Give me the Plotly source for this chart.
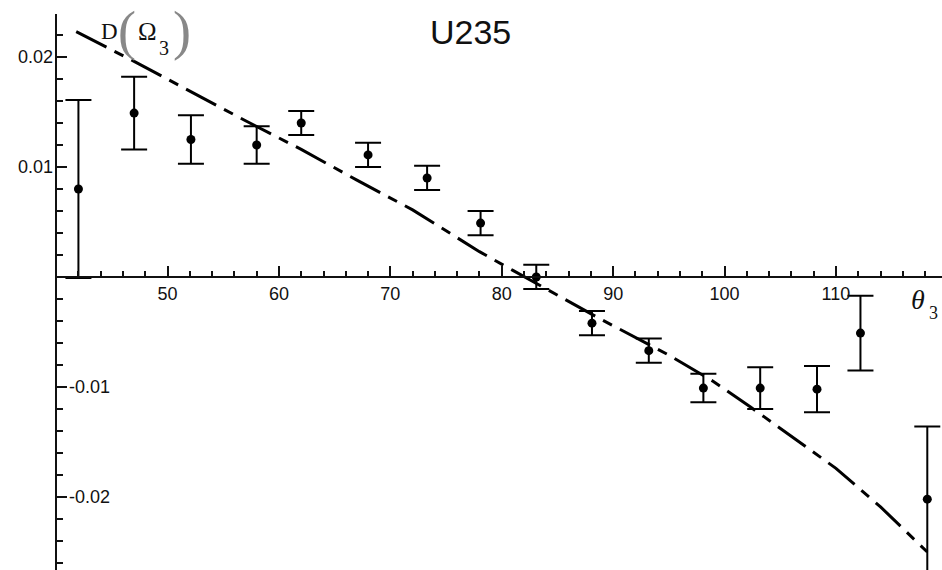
import plotly.graph_objects as go

# ---- data ----
theta_pts = [42.0, 47.0, 52.1, 58.0, 62.0, 68.0, 73.3, 78.1, 83.1, 88.1, 93.2, 98.1, 103.2, 108.3, 112.2, 118.2]
d_pts = [0.0080, 0.0149, 0.0125, 0.0120, 0.0140, 0.0111, 0.0090, 0.0049, 0.0000,
         -0.0042, -0.0067, -0.0101, -0.0101, -0.0102, -0.0051, -0.0202]
d_err = [0.0081, 0.0033, 0.0022, 0.0017, 0.0011, 0.0011, 0.0011, 0.0011, 0.0011,
         0.0011, 0.0011, 0.0013, 0.0019, 0.0021, 0.0034, 0.0066]

theta_curve = [41.8, 47.0, 52.0, 57.0, 62.0, 67.0, 72.0, 78.0, 81.0, 84.0, 89.0, 95.0, 99.0, 102.3, 106.0, 110.0, 114.0, 118.2]
d_curve = [0.0223, 0.0196, 0.0169, 0.0142, 0.0116, 0.0088, 0.0061, 0.0023, 0.0006, -0.0011,
           -0.0039, -0.0071, -0.0095, -0.0118, -0.0145, -0.0174, -0.0209, -0.0250]

x_tick_vals = [50, 60, 70, 80, 90, 100, 110]
x_tick_text = ["50", "60", "70", "80", "90", "100", "110"]
y_tick_vals = [0.02, 0.01, -0.01, -0.02]
y_tick_text = ["0.02", "0.01", "-0.01", "-0.02"]

# ---- geometry ----
W, H = 942, 570
X_FULL = (34.96, 119.52)      # x value at left / right edge of the figure
Y_FULL = (-0.02664, 0.02518)  # y value at bottom / top edge of the figure
X_AXIS_AT = 40.0              # where the vertical axis crosses
Y_TOP = 0.0239                # top end of vertical axis

def fx(v):
    return (v - X_FULL[0]) / (X_FULL[1] - X_FULL[0])

def fy(v):
    return (v - Y_FULL[0]) / (Y_FULL[1] - Y_FULL[0])

fig = go.Figure()

fig.add_trace(go.Scatter(
    x=theta_pts, y=d_pts, mode="markers",
    marker=dict(color="black", size=9),
    error_y=dict(type="data", array=d_err, visible=True, color="black", thickness=2, width=13),
    showlegend=False, cliponaxis=False,
))

fig.add_trace(go.Scatter(
    x=theta_curve, y=d_curve, mode="lines",
    line=dict(color="black", width=3, dash="34px,9px,10px,9px"),
    showlegend=False,
))

tick_font = dict(family="Liberation Sans, Arial", size=18, color="#111")

fig.update_layout(
    width=W, height=H,
    margin=dict(l=0, r=0, t=0, b=0),
    paper_bgcolor="white", plot_bgcolor="white",
    xaxis=dict(
        domain=[fx(X_AXIS_AT), 1.0], range=[X_AXIS_AT, X_FULL[1]],
        anchor="free", position=fy(0.0),
        showgrid=False, zeroline=False,
        showline=True, linecolor="#111", linewidth=2,
        tickmode="array", tickvals=x_tick_vals, ticktext=x_tick_text,
        ticks="inside", ticklen=10, tickwidth=2, tickcolor="#111",
        minor=dict(dtick=2, tick0=0, ticks="inside", ticklen=5, tickwidth=1.5, tickcolor="#111", showgrid=False),
        tickfont=tick_font,
    ),
    yaxis=dict(
        domain=[0.0, fy(Y_TOP)], range=[Y_FULL[0], Y_TOP],
        anchor="free", position=fx(X_AXIS_AT),
        showgrid=False, zeroline=False,
        showline=True, linecolor="#111", linewidth=2,
        tickmode="array", tickvals=y_tick_vals,
        ticks="inside", ticklen=10, tickwidth=2, tickcolor="#111",
        minor=dict(dtick=0.002, tick0=0, ticks="inside", ticklen=6, tickwidth=1.5, tickcolor="#111", showgrid=False),
        showticklabels=False,
    ),
)

annotations = []
for v, t in zip(y_tick_vals, y_tick_text):
    if v > 0:
        annotations.append(dict(x=fx(X_AXIS_AT) - 1.5 / W, y=v, xref="paper", yref="y",
                                text=t, showarrow=False, xanchor="right", yanchor="middle", font=tick_font))
    else:
        annotations.append(dict(x=fx(X_AXIS_AT) + 11 / W, y=v, xref="paper", yref="y",
                                text=t, showarrow=False, xanchor="left", yanchor="middle", font=tick_font))

serif = "Liberation Serif, Times New Roman"
tight = dict(showarrow=False, xref="paper", yref="paper", borderpad=0, borderwidth=0)
annotations += [
    dict(x=470 / W, y=1 - 32 / H, text="U235", xanchor="center", yanchor="middle",
         font=dict(family="Liberation Sans, Arial", size=34, color="#111"), **tight),
    dict(x=109 / W, y=1 - 32 / H, text="D", xanchor="center", yanchor="middle",
         font=dict(family=serif, size=23, color="#111"), **tight),
    dict(x=127 / W, y=1 - 31 / H, text="(", xanchor="center", yanchor="middle",
         font=dict(family=serif, size=54, color="#888"), **tight),
    dict(x=147 / W, y=1 - 32 / H, text="Ω", xanchor="center", yanchor="middle",
         font=dict(family=serif, size=25, color="#111"), **tight),
    dict(x=164 / W, y=1 - 48 / H, text="3", xanchor="center", yanchor="middle",
         font=dict(family=serif, size=20, color="#111"), **tight),
    dict(x=182 / W, y=1 - 31 / H, text=")", xanchor="center", yanchor="middle",
         font=dict(family=serif, size=54, color="#888"), **tight),
    dict(x=911 / W, y=1 - 299 / H, text="<i>θ</i>", xanchor="left", yanchor="middle",
         font=dict(family=serif, size=28, color="#111"), **tight),
    dict(x=929 / W, y=1 - 313 / H, text="3", xanchor="left", yanchor="middle",
         font=dict(family=serif, size=18, color="#111"), **tight),
]
fig.update_layout(annotations=annotations)

fig.write_html("out.html")
